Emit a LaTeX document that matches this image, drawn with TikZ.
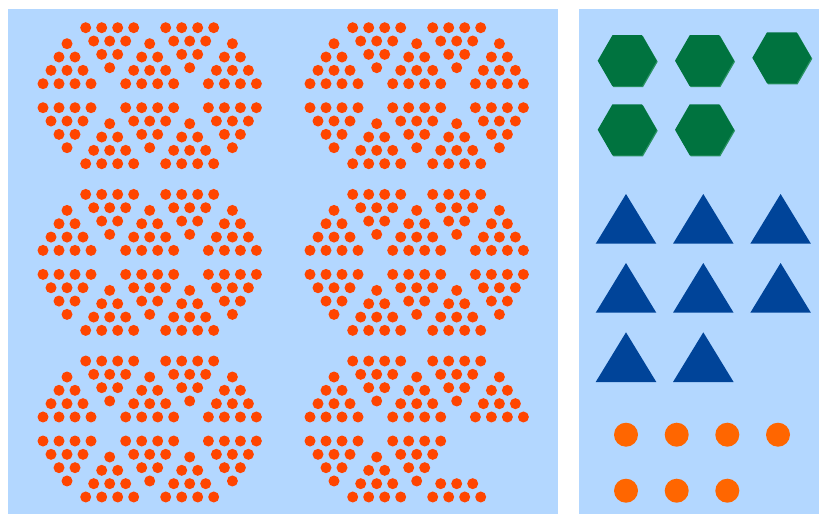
\documentclass[tikz,border=0pt]{standalone}
\usepackage{tikz}
\usetikzlibrary{calc}
\definecolor{bgblue}{HTML}{B3D7FF}
\definecolor{dotred}{HTML}{FF4500}
\definecolor{circorange}{HTML}{FF6600}
\definecolor{hexgreen}{HTML}{00733F}
\definecolor{hexedge}{HTML}{2A9262}
\definecolor{triblue}{HTML}{004499}
\tikzset{
  panel/.style={fill=bgblue},
  dotc/.style={fill=dotred},
  hexc/.style={fill=hexgreen},
  hexshade/.style={fill=hexedge},
  tric/.style={fill=triblue},
  circc/.style={fill=circorange}
}
% down-pointing triangle of dots: centre x, top row y
\newcommand{\dotdown}[2]{%
  \foreach \i in {0,...,3}{%
    \pgfmathtruncatemacro{\nn}{3-\i}%
    \foreach \j in {0,...,\nn}{%
      \fill[dotc] ({#1+(\j-\nn/2)*16},{#2+\i*13.33}) circle (5.5);
    }%
  }%
}
% up-pointing triangle of dots: [first row] centre x, apex y
\newcommand{\dotup}[3][0]{%
  \foreach \i in {#1,...,3}{%
    \foreach \j in {0,...,\i}{%
      \fill[dotc] ({#2+(\j-\i/2)*16},{#3+\i*13.33}) circle (5.5);
    }%
  }%
}
% full hexagon of ten dot triangles: centre x, top y
\newcommand{\dothex}[2]{%
  \dotdown{#1-40}{#2}\dotdown{#1+40}{#2}%
  \dotup{#1-82.7}{#2+16}\dotup{#1}{#2+16}\dotup{#1+82.7}{#2+16}%
  \dotdown{#1-82.7}{#2+80}\dotdown{#1}{#2+80}\dotdown{#1+82.7}{#2+80}%
  \dotup{#1-40}{#2+96}\dotup{#1+40}{#2+96}%
}
\newcommand{\greenhex}[2]{%
  \fill[hexshade] ($(#1,#2)+(1,1)$) +(0:29.5) -- +(60:29.5) -- +(120:29.5) -- +(180:29.5) -- +(240:29.5) -- +(300:29.5) -- cycle;
  \fill[hexc] (#1,#2) +(0:29.5) -- +(60:29.5) -- +(120:29.5) -- +(180:29.5) -- +(240:29.5) -- +(300:29.5) -- cycle;
}
\newcommand{\bluetri}[2]{%
  \fill[tric] (#1,#2) -- ({#1+30.3},{#2+49.7}) -- ({#1-30.3},{#2+49.7}) -- cycle;
}
\begin{document}
\begin{tikzpicture}[x=1pt,y=-1pt]
\useasboundingbox (0,0) rectangle (819,514);
\fill[white] (0,0) rectangle (819,514);
% panels
\fill[panel] (8,9) rectangle (558,514);
\fill[panel] (579,9) rectangle (819,514);
% dot hexagons
\dothex{149.7}{27.7}
\dothex{416.7}{27.7}
\dothex{149.7}{194.4}
\dothex{416.7}{194.4}
\dothex{149.7}{361}
% last, incomplete hexagon
\dotdown{416.7-40}{361}\dotdown{416.7+40}{361}
\dotup{416.7-82.7}{377}\dotup{416.7}{377}\dotup{416.7+82.7}{377}
\dotdown{416.7-82.7}{441}\dotdown{416.7}{441}
\dotup{416.7-40}{457}\dotup[2]{416.7+40}{457}
% green hexagons
\greenhex{627.2}{60.7}
\greenhex{704.5}{60.7}
\greenhex{781.8}{57.8}
\greenhex{627.2}{129.8}
\greenhex{704.5}{129.8}
% blue triangles
\bluetri{626}{194}
\bluetri{703.3}{194}
\bluetri{780.6}{194}
\bluetri{626}{263}
\bluetri{703.3}{263}
\bluetri{780.6}{263}
\bluetri{626}{332.3}
\bluetri{703.3}{332.3}
% orange circles
\foreach \x in {626,676.7,727.3,778}{\fill[circc] (\x,434.7) circle (12);}
\foreach \x in {626,676.7,727.3}{\fill[circc] (\x,490.7) circle (12);}
\end{tikzpicture}
\end{document}
